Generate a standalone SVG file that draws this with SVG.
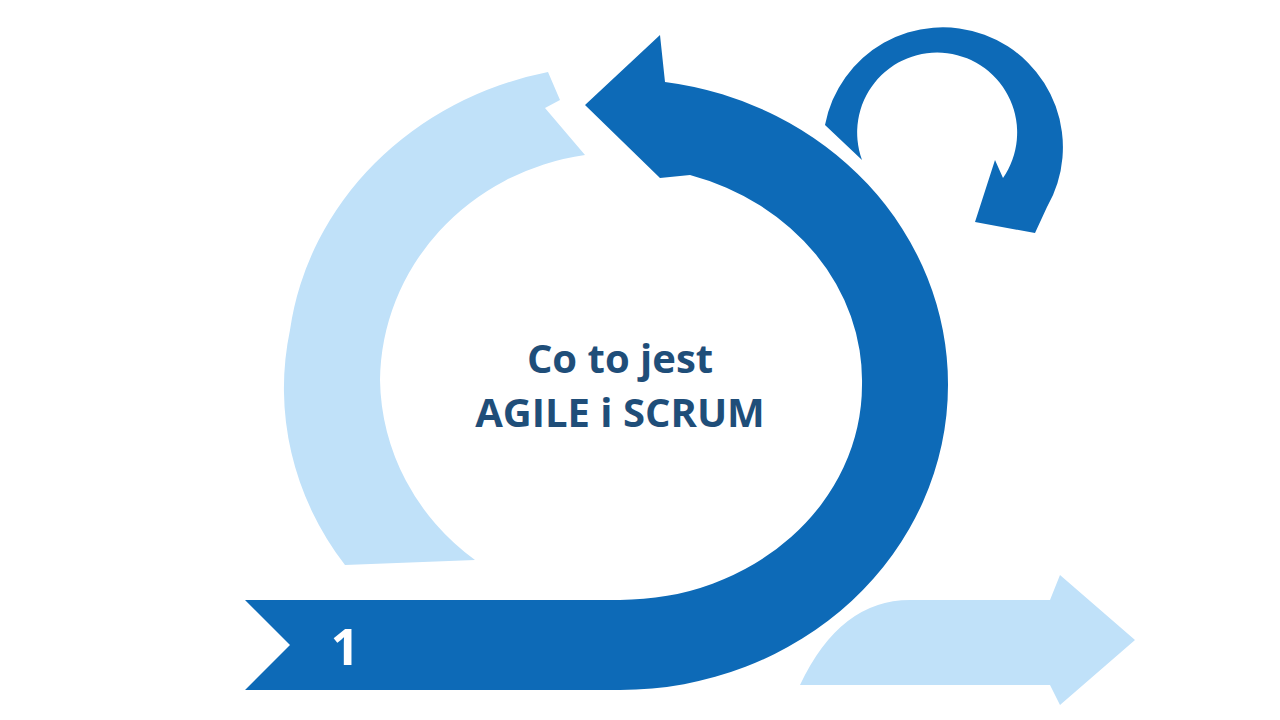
<svg xmlns="http://www.w3.org/2000/svg" width="1280" height="720" viewBox="0 0 1280 720">
<style>.d{fill:#0d6ab7}.l{fill:#c0e1f9}.t{font-family:"Open Sans","Liberation Sans",sans-serif;font-weight:bold;fill:#1f4e79;font-size:40px;text-anchor:middle}</style>
<rect width="1280" height="720" fill="#fff"/>
<path class="l" d="M548,72 L560,100 L545,108 L585,155 A240,230 0 0 0 380,380 A240,230 0 0 0 475,560 L345,565 A330,305 0 0 1 290,330 A330,305 0 0 1 548,72 Z"/>
<path class="d" d="M245,600 L620,600 A242,215 0 0 0 862,385 A242,215 0 0 0 690,175 L660,178 L585,105 L660,35 L665,82 A328,305 0 0 1 948,385 A328,305 0 0 1 620,690 L245,690 L290,645 Z"/>
<path class="d" d="M862,160 L825,125 A120,120 0 1 1 1047,207 L1035,233 L975,222 L995,160 L1003,178 A80,80 0 1 0 862,160 Z"/>
<path class="l" d="M800,685 Q840,600 910,600 L1050,600 L1060,575 L1135,640 L1060,705 L1050,685 Z"/>
<text class="t" x="620" y="373">Co to jest</text>
<text class="t" x="620" y="427">AGILE i SCRUM</text>
<text x="345" y="665" font-family="Open Sans,Liberation Sans,sans-serif" font-weight="bold" font-size="50" fill="#fff" text-anchor="middle">1</text>
</svg>
